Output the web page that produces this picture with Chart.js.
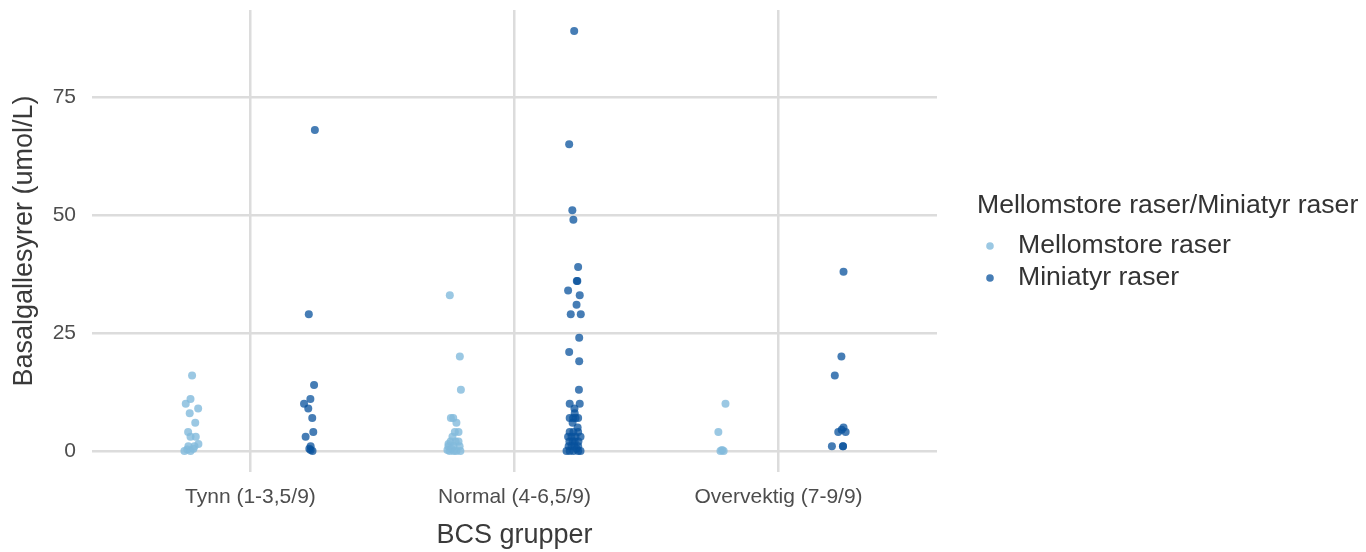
<!DOCTYPE html>
<html>
<head>
<meta charset="utf-8">
<title>Basalgallesyrer etter BCS gruppe</title>
<script src="https://cdn.jsdelivr.net/npm/chart.js@4.4.1/dist/chart.umd.min.js"></script>
<style>
  html, body { margin: 0; padding: 0; background: #fff; }
</style>
</head>
<body>
<canvas id="chart" width="1366" height="552"></canvas>
<script>
// BCS groups on the x axis
var categories = ['Tynn (1-3,5/9)', 'Normal (4-6,5/9)', 'Overvektig (7-9/9)'];
var yTicks = [0, 25, 50, 75];

var legendTitle = 'Mellomstore raser/Miniatyr raser';
var seriesNames = ['Mellomstore raser', 'Miniatyr raser'];

// values per group (umol/L)
var mellomTynn = [16, 11, 10, 9, 8, 6, 4, 3, 3, 1.5, 1, 1, 0.5, 0.3, 0, 0];
var mellomNormal = [33, 20, 13, 7, 7, 6, 4, 4, 3, 2, 2, 2, 1.5, 1, 1, 1, 0.5, 0, 0, 0, 0, 0.2];
var mellomOver = [10, 4, 0, 0, 0.2];

var miniTynn = [68, 29, 14, 11, 10, 9, 7, 4, 3, 1, 0.5, 0.2, 0];
var miniNormal = [89, 65, 51, 49, 39, 36, 36, 34, 33, 31, 29, 29, 24, 21, 19, 13,
                  10, 10, 9, 8, 7, 7, 7, 7, 6, 5, 4, 4, 4, 3, 3, 3, 3, 2, 2, 2, 2,
                  1, 1, 1, 1, 0.5, 0, 0, 0, 0, 0];
var miniOver = [38, 20, 16, 5, 4.5, 4, 4, 1, 1, 1];

// horizontal jitter of each point (in category units), as seen in the picture
var mellomTynnJit = [0.004, -0.002, -0.020, 0.027, -0.005, 0.016, -0.011, 0.018, -0.002, 0.028, 0.013, -0.010, 0.009, -0.014, -0.025, -0.002];
var mellomNormalJit = [-0.020, 0.018, 0.022, -0.007, -0.016, 0.005, -0.001, 0.013, -0.010, -0.017, 0.013, 0.002, -0.025, -0.006, 0.017, -0.025, -0.014, -0.021, 0.005, 0.020, -0.006, -0.029];
var mellomOverJit = [0.024, -0.003, 0.005, 0.017, 0.011];

var miniTynnJit = [0.019, -0.004, 0.016, 0.002, -0.022, -0.006, 0.009, 0.013, -0.016, 0.003, -0.002, 0.003, 0.010];
var miniNormalJit = [0.001, -0.018, -0.006, -0.002, 0.016, 0.013, 0.011, -0.022, 0.022, 0.010, -0.012, 0.026, 0.020, -0.018, 0.020, 0.019,
                     -0.016, 0.022, 0.002, 0.003, -0.016, 0.016, -0.003, 0.006, -0.005, 0.014, -0.016, 0.016, -0.002, -0.022, 0.006, 0.025, -0.009, 0.003, -0.017, 0.017, -0.005,
                     -0.009, 0.016, -0.020, 0.002, 0.010, -0.016, 0.016, -0.002, 0.025, -0.028];
var miniOverJit = [0.021, 0.013, -0.012, 0.021, 0.014, 0.001, 0.029, -0.023, 0.019, 0.019];

var dodge = 0.225;
var lightBlue = 'rgba(130, 186, 220, 0.8)';
var darkBlue = 'rgba(8, 81, 156, 0.75)';

function buildPoints(groups, jitters, shift) {
    var pts = [];
    for (var g = 0; g < groups.length; g++) {
        for (var i = 0; i < groups[g].length; i++) {
            pts.push({ x: g + 1 + shift + jitters[g][i], y: groups[g][i] });
        }
    }
    return pts;
}

var mellomPoints = buildPoints([mellomTynn, mellomNormal, mellomOver], [mellomTynnJit, mellomNormalJit, mellomOverJit], -dodge);
var miniPoints = buildPoints([miniTynn, miniNormal, miniOver], [miniTynnJit, miniNormalJit, miniOverJit], dodge);

// legend drawn to the right of the panel, ggplot style
var sideLegend = {
    id: 'sideLegend',
    afterDraw: function (chart) {
        var ctx = chart.ctx;
        var x0 = chart.chartArea.right + 40;
        ctx.save();
        ctx.textBaseline = 'middle';
        ctx.textAlign = 'left';
        ctx.font = '26.6px "Liberation Sans", Arial, sans-serif';
        ctx.fillStyle = '#333333';
        ctx.fillText(legendTitle, x0, 206);
        chart.data.datasets.forEach(function (ds, i) {
            var y = 246 + i * 32;
            ctx.beginPath();
            ctx.arc(x0 + 13, y, 3.8, 0, Math.PI * 2);
            ctx.fillStyle = ds.backgroundColor;
            ctx.fill();
            ctx.fillStyle = '#333333';
            ctx.fillText(ds.label, x0 + 41, y);
        });
        ctx.restore();
    }
};

var tickFont = { family: '"Liberation Sans", Arial, sans-serif', size: 21 };
var titleFont = { family: '"Liberation Sans", Arial, sans-serif', size: 27 };
var gridStyle = { color: '#dcdcdc', lineWidth: 2.5, drawTicks: false };

var chart = new Chart(document.getElementById('chart'), {
    type: 'scatter',
    data: {
        datasets: [{
            label: seriesNames[0],
            data: mellomPoints,
            backgroundColor: lightBlue,
            borderWidth: 0,
            pointRadius: 4,
            pointHoverRadius: 4
        }, {
            label: seriesNames[1],
            data: miniPoints,
            backgroundColor: darkBlue,
            borderWidth: 0,
            pointRadius: 4,
            pointHoverRadius: 4
        }]
    },
    options: {
        responsive: false,
        animation: false,
        events: [],
        layout: { padding: { top: 10, right: 429, bottom: 0, left: 0 } },
        plugins: {
            legend: { display: false },
            tooltip: { enabled: false }
        },
        scales: {
            x: {
                type: 'linear',
                min: 0.4,
                max: 3.6,
                afterBuildTicks: function (scale) {
                    scale.ticks = categories.map(function (c, i) { return { value: i + 1 }; });
                },
                afterFit: function (scale) {
                    scale.height = 80;
                    scale.paddingLeft = 0;
                    scale.paddingRight = 0;
                },
                ticks: {
                    font: tickFont,
                    color: '#4d4d4d',
                    padding: 13,
                    maxRotation: 0,
                    callback: function (v) { return categories[v - 1]; }
                },
                grid: gridStyle,
                border: { display: false },
                title: {
                    display: true,
                    text: 'BCS grupper',
                    font: titleFont,
                    color: '#3a3a3a',
                    padding: { top: 0, bottom: 0 }
                }
            },
            y: {
                type: 'linear',
                min: -4.45,
                max: 93.45,
                afterBuildTicks: function (scale) {
                    scale.ticks = yTicks.map(function (v) { return { value: v }; });
                },
                afterFit: function (scale) {
                    scale.width = 92;
                    scale.paddingTop = 0;
                    scale.paddingBottom = 0;
                },
                ticks: {
                    font: tickFont,
                    color: '#4d4d4d',
                    padding: 16
                },
                grid: gridStyle,
                border: { display: false },
                title: {
                    display: true,
                    text: 'Basalgallesyrer (umol/L)',
                    font: titleFont,
                    color: '#3a3a3a',
                    padding: { top: 8, bottom: 0 }
                }
            }
        }
    },
    plugins: [sideLegend]
});
</script>
</body>
</html>
